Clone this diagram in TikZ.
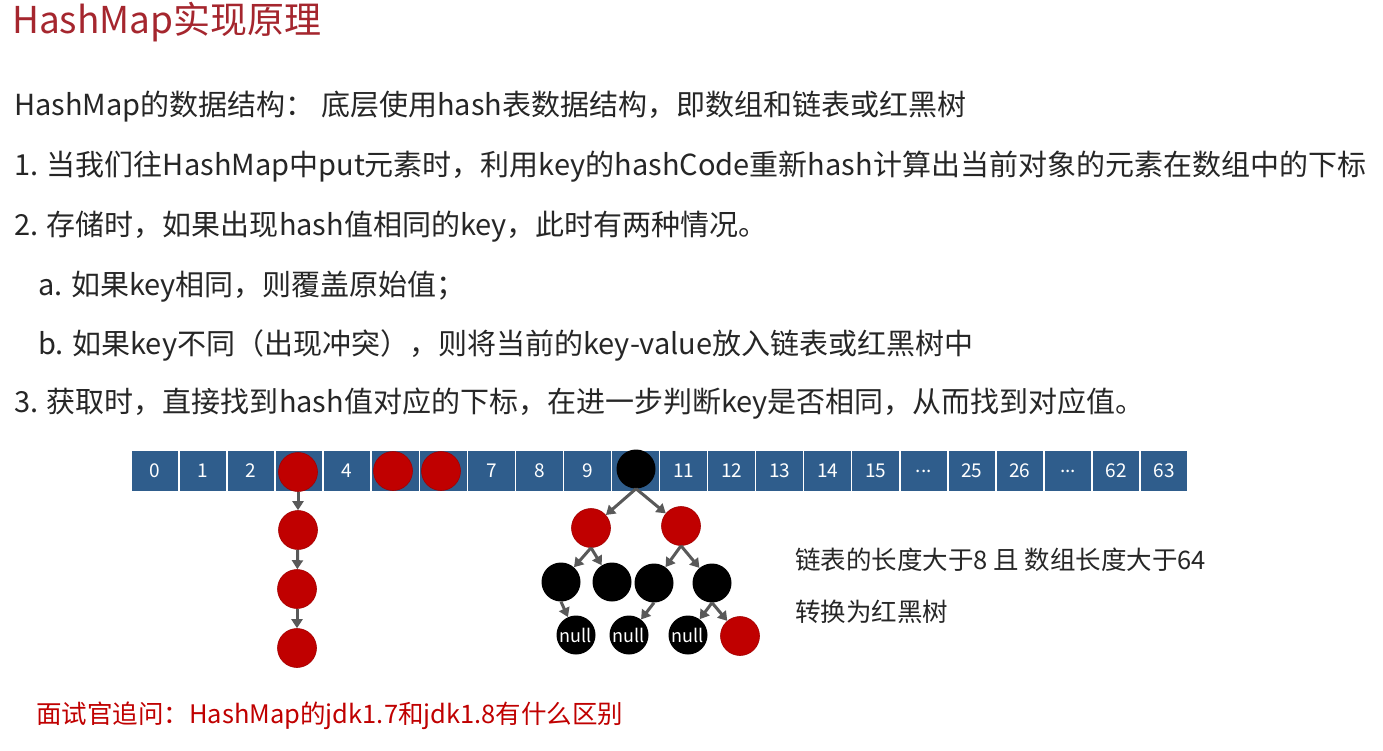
\documentclass[tikz,border=0pt]{standalone}
\usepackage{fontspec}
\setmainfont{Noto Sans CJK SC}
\usetikzlibrary{arrows.meta}
\definecolor{titlered}{HTML}{A5262E}
\definecolor{cellblue}{HTML}{2F5D8C}
\definecolor{nodered}{HTML}{C00000}
\definecolor{arrowgray}{HTML}{595959}
\definecolor{txt}{HTML}{262626}
\newcommand\mydots{...}
\begin{document}
\begin{tikzpicture}[x=1pt,y=-1pt,
  cell/.style={draw=white,line width=1.5pt,fill=cellblue,minimum width=48.1pt,minimum height=42pt,inner sep=0pt,text=white,font=\fontsize{19}{20}\selectfont},
  rb/.style={circle,minimum size=39pt,inner sep=0pt,fill=nodered,draw=nodered!85!black,line width=0.6pt},
  bk/.style={circle,minimum size=39pt,inner sep=0pt,fill=black,text=white,font=\fontsize{18}{18}\selectfont},
  arr/.style={draw=arrowgray,line width=3pt,-{Triangle[width=11pt,length=9pt]}},
  line/.style={anchor=west,inner sep=0pt,text=txt,font=\fontsize{29}{31}\selectfont}]
\useasboundingbox (0,0) rectangle (1383,751);
\fill[white] (0,0) rectangle (1383,751);
% title
\node[anchor=west,inner sep=0pt,text=titlered,font=\fontsize{37}{40}\selectfont] (title) at (12,22) {HashMap实现原理};
% text lines
\node[line] (l1) at (14,107) {HashMap的数据结构： 底层使用hash表数据结构，即数组和链表或红黑树};
\node[line] (l2) at (14,167) {1. 当我们往HashMap中put元素时，利用key的hashCode重新hash计算出当前对象的元素在数组中的下标};
\node[line] (l3) at (14,227) {2. 存储时，如果出现hash值相同的key，此时有两种情况。};
\node[line] (l4) at (38,287) {a. 如果key相同，则覆盖原始值；};
\node[line] (l5) at (38,345) {b. 如果key不同（出现冲突），则将当前的key-value放入链表或红黑树中};
\node[line] (l6) at (14,404) {3. 获取时，直接找到hash值对应的下标，在进一步判断key是否相同，从而找到对应值。};
% array
\foreach \i/\t in {0/0,1/1,2/2,3/,4/4,5/,6/,7/7,8/8,9/9,10/,11/11,12/12,13/13,14/14,15/15,16/\mydots,17/25,18/26,19/\mydots,20/62,21/63}{
  \node[cell] (c\i) at ({131+48.05*(\i+0.5)},471) {\t};
}
% circles in array
\node[rb] (h3) at (298,472) {};
\node[rb] (h5) at (393,471) {};
\node[rb] (h6) at (441,471) {};
% linked list
\node[rb] (n1) at (298,530) {};
\node[rb] (n2) at (297,589) {};
\node[rb] (n3) at (297,648) {};
\draw[arr] (h3) -- (n1);
\draw[arr] (n1) -- (n2);
\draw[arr] (n2) -- (n3);
% tree
\node[bk] (root) at (636,469) {};
\node[rb] (r1) at (591,528) {};
\node[rb] (r2) at (681,526) {};
\node[bk] (b1) at (561,582) {};
\node[bk] (b2) at (612,582) {};
\node[bk] (b3) at (654,583) {};
\node[bk] (b4) at (712,583) {};
\node[bk] (z1) at (576,635) {null};
\node[bk] (z2) at (629,635) {null};
\node[bk] (z3) at (688,635) {null};
\node[rb] (z4) at (740,636) {};
\draw[arr] (root.south) -- (r1);
\draw[arr] (root.south) -- (r2);
\draw[arr] (r1.south) -- (b1);
\draw[arr] (r1.south) -- (b2);
\draw[arr] (r2.south) -- (b3);
\draw[arr] (r2.south) -- (b4);
\draw[arr] (b1.south) -- (z1);
\draw[arr] (b3.south) -- (z2);
\draw[arr] (b4.south) -- (z3);
\draw[arr] (b4.south) -- (z4);
% side note
\node[anchor=west,inner sep=0pt,text=txt,font=\fontsize{25.5}{27}\selectfont] (note1) at (795,560) {链表的长度大于8 且 数组长度大于64};
\node[anchor=west,inner sep=0pt,text=txt,font=\fontsize{25.5}{27}\selectfont] (note2) at (795,612) {转换为红黑树};
% question
\node[anchor=west,inner sep=0pt,text=nodered,font=\fontsize{25.5}{27}\selectfont] (q) at (36,716) {面试官追问：HashMap的jdk1.7和jdk1.8有什么区别};
\end{tikzpicture}
\end{document}
